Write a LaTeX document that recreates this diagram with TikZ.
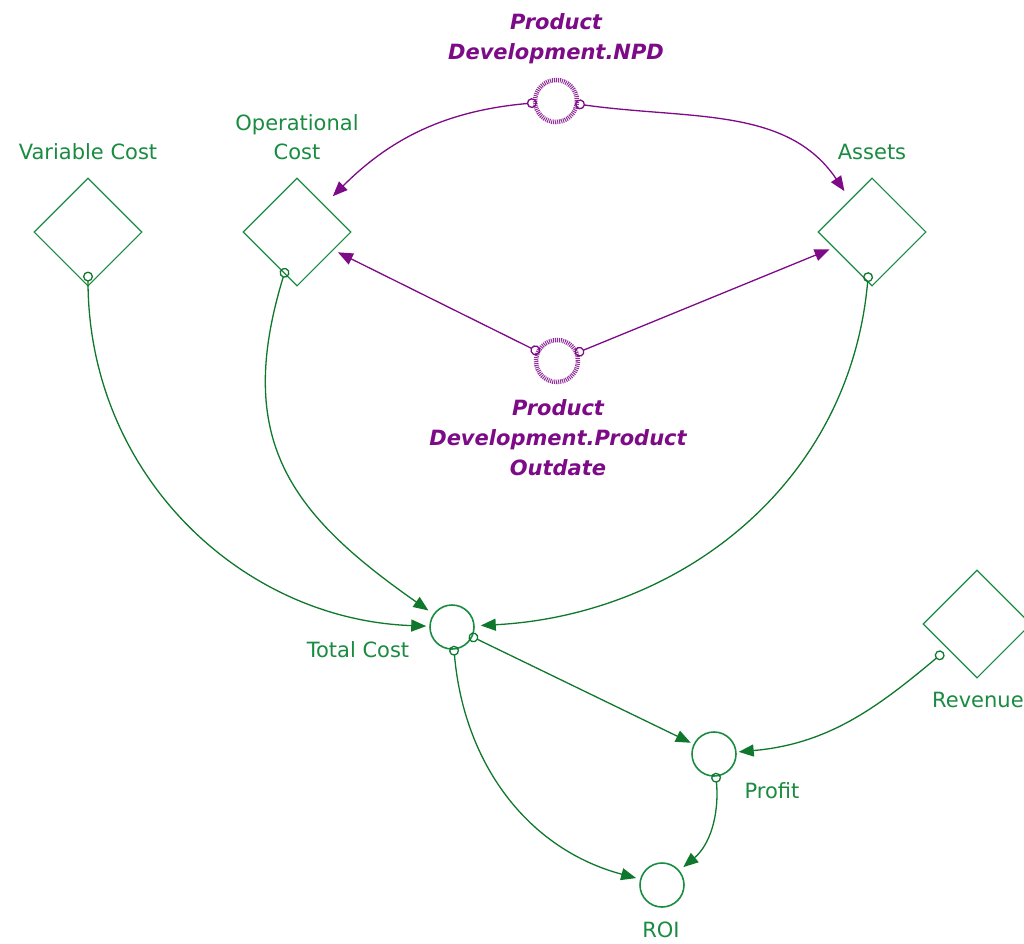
\documentclass[tikz,border=0pt]{standalone}
\usepackage{fontspec}
\setmainfont{DejaVu Sans}
\usetikzlibrary{arrows.meta, positioning, shapes.geometric}
\definecolor{stgreen}{RGB}{25,140,65}
\definecolor{stlink}{RGB}{15,120,45}
\definecolor{stpurple}{RGB}{125,10,135}

\begin{document}
\begin{tikzpicture}[
    x=1pt, y=1pt,
    conv/.style={diamond, draw=stgreen, line width=1.1pt, minimum width=108pt, minimum height=108pt, inner sep=0pt, aspect=1},
    aux/.style={circle, draw=stgreen, line width=1.6pt, minimum size=44pt, inner sep=0pt},
    ghost/.style={circle, draw=stpurple!85, line width=4.5pt, dash pattern=on 1pt off 1pt, minimum size=42pt, inner sep=0pt},
    lbl/.style={text=stgreen, font=\fontsize{21}{29}\selectfont, align=center, inner sep=0pt},
    glbl/.style={text=stpurple, font=\fontsize{21}{30}\selectfont\bfseries\itshape, align=center, inner sep=0pt},
    link/.style={draw=stlink, line width=1.3pt, {Circle[open, length=10pt, width=10pt]}-{Triangle[length=15pt, width=12pt]}, shorten <=-4pt, shorten >=3pt},
    plink/.style={link, draw=stpurple}
]
\useasboundingbox[fill=white] (0,0) rectangle (1024,-943);

% Converters
\node[conv] (vcost) at (88,-232) {};
\node[conv] (opcost) at (297,-232) {};
\node[conv] (assets) at (872,-232) {};
\node[conv] (revenue) at (977,-624) {};

% Ghosts from the product development sector
\node[ghost] (npd) at (556,-101) {};
\node[ghost] (outdate) at (557,-361) {};

% Auxiliaries
\node[aux] (tcost) at (452,-627) {};
\node[aux] (profit) at (714,-754) {};
\node[aux] (roi) at (662,-885) {};

% Labels
\node[lbl, above=17pt of vcost] (vcostlbl) {Variable Cost};
\node[lbl, above=17pt of opcost] (opcostlbl) {Operational\\Cost};
\node[lbl, above=17pt of assets] (assetslbl) {Assets};
\node[lbl, anchor=west] (revenuelbl) at (932,-700) {Revenue};
\node[lbl] (tcostlbl) at (358,-650) {Total Cost};
\node[lbl] (profitlbl) at (772,-791) {Profit};
\node[lbl] (roilbl) at (661,-930) {ROI};
\node[glbl] (npdlbl) at (556,-39) {Product\\Development.NPD};
\node[glbl] (outdatelbl) at (558,-438) {Product\\Development.Product\\Outdate};

% Ghost links
\draw[plink, shorten >=12pt] (npd) to[out=185, in=45] (opcost);
\draw[plink, shorten >=10pt] (npd) to[out=-8, in=124] (assets);
\draw[plink, shorten >=5pt] (outdate) -- (opcost);
\draw[plink, shorten >=4pt] (outdate) -- (assets);

% Cost links
\draw[link, shorten <=-15pt] (vcost) to[out=-90, in=178] (tcost);
\draw[link, shorten <=-6pt, shorten >=6pt, looseness=1.2] (opcost) to[out=-107, in=145] (tcost);
\draw[link, shorten <=-10pt, shorten >=6pt] (assets) to[out=-95, in=3] (tcost);

% Profit and ROI
\draw[link] (tcost) -- (profit);
\draw[link, shorten <=5pt, shorten >=2pt] (revenue) to[out=220, in=5] (profit);
\draw[link, shorten >=4pt] (tcost) to[out=-85, in=165] (roi);
\draw[link, shorten >=5pt] (profit) to[out=-85, in=40] (roi);

\end{tikzpicture}
\end{document}
